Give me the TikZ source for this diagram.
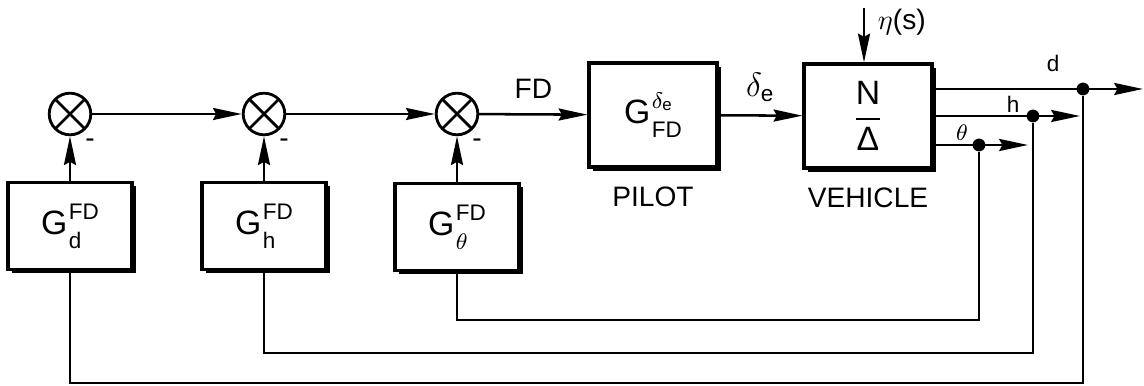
\documentclass[tikz,border=0pt]{standalone}
\usepackage{amsmath}
\usepackage{fontspec}
\setmainfont{Liberation Sans}
\usetikzlibrary{arrows.meta, calc, positioning, shadows}

% transfer function label: G with stacked super- and subscript
\newcommand{\gainlbl}[2]{G\hspace{0.5pt}\begin{tabular}[c]{@{}l@{}}\footnotesize #1\\[-3.5pt]\footnotesize #2\end{tabular}}

\tikzset{
  blk/.style={draw, line width=1.1pt, fill=white, minimum width=1.55cm, minimum height=1.06cm,
    drop shadow={shadow xshift=0.45mm, shadow yshift=-0.45mm, fill=black, opacity=1}},
  gain/.style={blk, font=\fontsize{12}{14}\selectfont},
  sumnode/.style={draw, circle, line width=1pt, minimum size=0.52cm, inner sep=0pt,
    path picture={\draw[line width=1pt] (path picture bounding box.north west) -- (path picture bounding box.south east)
      (path picture bounding box.north east) -- (path picture bounding box.south west);}},
  sig/.style={line width=0.9pt},
  arr/.style={sig, -{Stealth[length=3.6mm, width=1.5mm, inset=0.4mm]}},
  dot/.style={circle, fill, inner sep=0pt, minimum size=1.6mm},
  small lbl/.style={font=\footnotesize},
}

\begin{document}
\begin{tikzpicture}[x=0.0125cm, y=-0.0125cm, font=\fontsize{10}{12}\selectfont]
    \useasboundingbox (0,0) rectangle (1144,386);

    % summing points
    \node[sumnode] (sum1) at (70,114) {};
    \node[sumnode] (sum2) at (264,114) {};
    \node[sumnode] (sum3) at (457,114) {};
    \node (m1) at ([shift={(20,29)}]sum1) {-};
    \node (m2) at ([shift={(20,29)}]sum2) {-};
    \node (m3) at ([shift={(20,29)}]sum3) {-};

    % feedback gains
    \node[gain] (gd) at (70,226) {\gainlbl{FD}{d}};
    \node[gain] (gh) at (264,226) {\gainlbl{FD}{h}};
    \node[gain] (gth) at (457,227) {\gainlbl{FD}{$\theta$}};

    % pilot and vehicle
    \node[gain, minimum width=1.6cm, minimum height=1.3cm] (pilot) at (653,115) {\gainlbl{$\delta_{\text{e}}$}{FD}};
    \node[below=0.1cm of pilot] (pilotlbl) {PILOT};
    \node[gain, minimum width=1.6cm, minimum height=1.3cm] (vehicle) at (868,116) {$\dfrac{\text{N}}{\text{Δ}}$};
    \node[below=0.1cm of vehicle] (vehlbl) {VEHICLE};

    % forward path
    \draw[arr] (sum1) -- (sum2);
    \draw[arr] (sum2) -- (sum3);
    \draw[arr] (sum3) -- node[above=2pt] (fdlbl) {FD} (pilot);
    \draw[arr] (pilot) -- node[above=1pt] (delbl) {\large$\delta_{\text{e}}$} (vehicle);
    \draw[arr] (gd) -- (sum1);
    \draw[arr] (gh) -- (sum2);
    \draw[arr] (gth) -- (sum3);

    % disturbance
    \coordinate (eta) at (864,8);
    \draw[arr] (eta) -- (eta |- vehicle.north);
    \node[anchor=west] (etalbl) at (868,22) {$\eta$(s)};

    % outputs
    \node[dot] (dd) at (1083,89) {};
    \node[dot] (dh) at (1033,116) {};
    \node[dot] (dth) at (979,145) {};
    \coordinate (dout) at (1143,89);
    \coordinate (hout) at (1080,116);
    \coordinate (thout) at (1028,145);
    \draw[arr] (vehicle.east |- dd) -- (dout);
    \draw[arr] (vehicle.east |- dh) -- (hout);
    \draw[arr] (vehicle.east |- dth) -- (thout);
    \node[small lbl] (dlbl) at (1053,63) {d};
    \node[small lbl] (hlbl) at (1013,104) {h};
    \node[small lbl] (thlbl) at (962,133) {$\theta$};

    % feedback loops
    \coordinate (fbth) at (0,320);
    \coordinate (fbh) at (0,353);
    \coordinate (fbd) at (0,383);
    \draw[sig] (dth) -- (dth |- fbth) -| (gth.south);
    \draw[sig] (dh) -- (dh |- fbh) -| (gh.south);
    \draw[sig] (dd) -- (dd |- fbd) -| (gd.south);
\end{tikzpicture}
\end{document}
